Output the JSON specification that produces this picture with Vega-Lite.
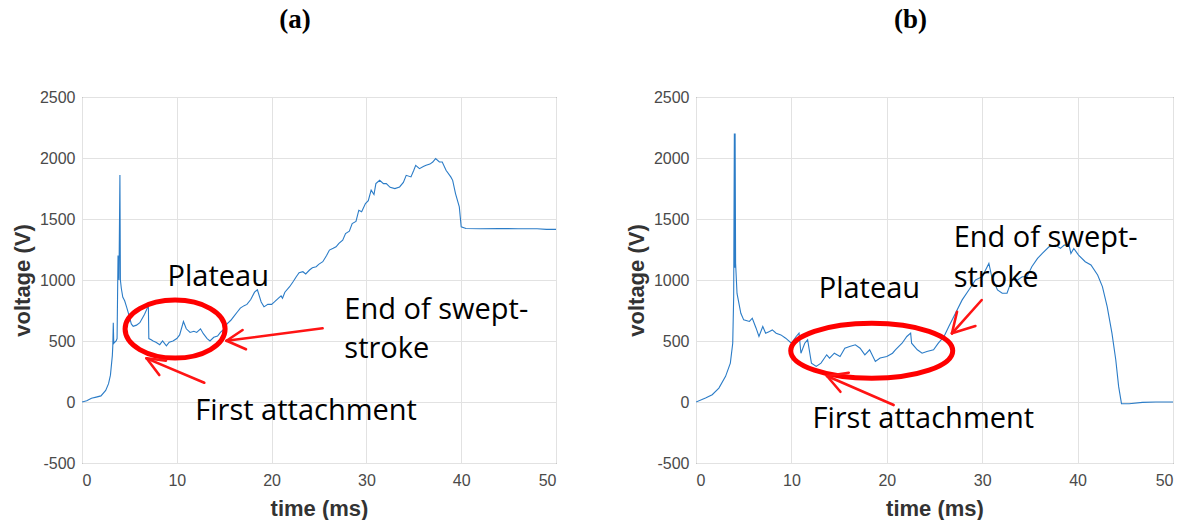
{
  "$schema": "https://vega.github.io/schema/vega-lite/v6.json",
  "background": "white",
  "padding": {"left": 10, "top": 5, "right": 5, "bottom": 0},
  "spacing": 67,
  "config": {
    "view": {"stroke": "#4d4d4d", "strokeWidth": 1},
    "axis": {
      "grid": true, "gridColor": "#e2e2e2", "domain": false, "ticks": false,
      "labelFont": "Liberation Sans", "labelFontSize": 16, "labelColor": "#4a4a4a",
      "titleFont": "Liberation Sans", "titleFontSize": 22, "titleFontWeight": "bold", "titleColor": "#333333"
    },
    "axisX": {"labelPadding": 9, "titlePadding": 10},
    "axisY": {"labelPadding": 7, "titlePadding": 5},
    "title": {"font": "Liberation Serif", "fontSize": 27, "fontWeight": "bold", "color": "#000000"}
  },
  "datasets": {
    "a": [
      {"t":0,"v":0},{"t":0.5,"v":10},{"t":1,"v":30},{"t":1.5,"v":40},{"t":2,"v":50},{"t":2.5,"v":95},{"t":2.8,"v":150},{"t":3.0,"v":220},{"t":3.2,"v":380},{"t":3.25,"v":460},{"t":3.3,"v":650},{"t":3.35,"v":480},{"t":3.45,"v":490},{"t":3.6,"v":500},{"t":3.7,"v":520},{"t":3.8,"v":1200},{"t":3.9,"v":1000},{"t":4.0,"v":1860},{"t":4.05,"v":1000},{"t":4.15,"v":930},{"t":4.3,"v":860},{"t":4.5,"v":830},{"t":4.7,"v":780},{"t":5.0,"v":700},{"t":5.2,"v":640},{"t":5.4,"v":620},{"t":5.75,"v":630},{"t":6.1,"v":650},{"t":6.6,"v":720},{"t":7.0,"v":790},{"t":7.05,"v":520},{"t":7.3,"v":510},{"t":7.5,"v":500},{"t":7.8,"v":490},{"t":8.2,"v":470},{"t":8.5,"v":500},{"t":8.9,"v":460},{"t":9.2,"v":490},{"t":9.6,"v":500},{"t":10.0,"v":520},{"t":10.3,"v":550},{"t":10.7,"v":660},{"t":11.0,"v":600},{"t":11.4,"v":570},{"t":11.8,"v":580},{"t":12.1,"v":570},{"t":12.5,"v":600},{"t":12.8,"v":560},{"t":13.2,"v":520},{"t":13.5,"v":500},{"t":13.9,"v":530},{"t":14.3,"v":540},{"t":14.6,"v":570},{"t":15.0,"v":600},{"t":15.3,"v":640},{"t":15.7,"v":670},{"t":16.0,"v":700},{"t":16.4,"v":740},{"t":16.7,"v":770},{"t":17.1,"v":790},{"t":17.4,"v":800},{"t":17.8,"v":840},{"t":18.2,"v":900},{"t":18.5,"v":920},{"t":18.9,"v":820},{"t":19.2,"v":780},{"t":19.6,"v":800},{"t":20.0,"v":800},{"t":20.3,"v":820},{"t":20.7,"v":850},{"t":21.0,"v":870},{"t":21.15,"v":850},{"t":21.4,"v":900},{"t":21.9,"v":945},{"t":22.3,"v":990},{"t":22.6,"v":1027},{"t":22.9,"v":1060},{"t":23.3,"v":1068},{"t":23.6,"v":1050},{"t":24.0,"v":1082},{"t":24.3,"v":1100},{"t":24.7,"v":1109},{"t":25.0,"v":1130},{"t":25.4,"v":1150},{"t":25.8,"v":1200},{"t":26.1,"v":1245},{"t":26.5,"v":1260},{"t":26.8,"v":1272},{"t":27.1,"v":1300},{"t":27.5,"v":1327},{"t":27.8,"v":1381},{"t":28.2,"v":1400},{"t":28.5,"v":1463},{"t":28.9,"v":1480},{"t":29.2,"v":1572},{"t":29.5,"v":1560},{"t":29.9,"v":1627},{"t":30.2,"v":1650},{"t":30.5,"v":1736},{"t":30.8,"v":1700},{"t":31.0,"v":1790},{"t":31.4,"v":1817},{"t":31.8,"v":1790},{"t":32.1,"v":1790},{"t":32.5,"v":1760},{"t":33.0,"v":1749},{"t":33.5,"v":1763},{"t":33.9,"v":1800},{"t":34.2,"v":1858},{"t":34.7,"v":1845},{"t":35.0,"v":1900},{"t":35.2,"v":1940},{"t":35.6,"v":1913},{"t":36.0,"v":1930},{"t":36.3,"v":1940},{"t":36.7,"v":1950},{"t":37.0,"v":1967},{"t":37.3,"v":1995},{"t":37.7,"v":1967},{"t":38.0,"v":1967},{"t":38.4,"v":1899},{"t":38.9,"v":1845},{"t":39.1,"v":1817},{"t":39.4,"v":1708},{"t":39.8,"v":1599},{"t":40.0,"v":1436},{"t":40.5,"v":1422},{"t":42,"v":1420},{"t":44,"v":1422},{"t":46,"v":1420},{"t":48,"v":1420},{"t":49,"v":1415},{"t":50,"v":1415}
    ],
    "b": [
      {"t":0,"v":0},{"t":1,"v":33},{"t":1.7,"v":60},{"t":2.4,"v":114},{"t":3.1,"v":210},{"t":3.6,"v":319},{"t":3.85,"v":482},{"t":3.95,"v":864},{"t":4.02,"v":2200},{"t":4.06,"v":1100},{"t":4.1,"v":2200},{"t":4.15,"v":1140},{"t":4.3,"v":890},{"t":4.7,"v":727},{"t":5.0,"v":673},{"t":5.6,"v":660},{"t":5.9,"v":687},{"t":6.3,"v":605},{"t":6.6,"v":537},{"t":7.0,"v":619},{"t":7.3,"v":564},{"t":7.7,"v":578},{"t":8.0,"v":591},{"t":8.4,"v":564},{"t":8.9,"v":550},{"t":9.4,"v":523},{"t":10.0,"v":482},{"t":10.5,"v":537},{"t":10.8,"v":564},{"t":11.0,"v":400},{"t":11.4,"v":482},{"t":11.7,"v":510},{"t":12.1,"v":319},{"t":12.6,"v":292},{"t":13.1,"v":319},{"t":13.7,"v":387},{"t":14.0,"v":360},{"t":14.5,"v":400},{"t":15.1,"v":373},{"t":15.6,"v":441},{"t":16.1,"v":455},{"t":16.7,"v":469},{"t":17.2,"v":441},{"t":17.7,"v":387},{"t":18.2,"v":428},{"t":18.8,"v":332},{"t":19.3,"v":360},{"t":20.0,"v":373},{"t":20.6,"v":400},{"t":20.9,"v":428},{"t":21.6,"v":482},{"t":22.1,"v":537},{"t":22.5,"v":564},{"t":22.6,"v":482},{"t":23.2,"v":428},{"t":23.7,"v":400},{"t":24.2,"v":414},{"t":24.9,"v":428},{"t":25.4,"v":482},{"t":26.0,"v":537},{"t":26.5,"v":619},{"t":27.2,"v":727},{"t":27.9,"v":837},{"t":28.6,"v":918},{"t":29.3,"v":1000},{"t":30.0,"v":1027},{"t":30.7,"v":1136},{"t":31.0,"v":1027},{"t":31.6,"v":918},{"t":32.1,"v":891},{"t":32.6,"v":891},{"t":33.1,"v":1000},{"t":33.7,"v":1000},{"t":34.2,"v":1027},{"t":34.7,"v":1027},{"t":35.2,"v":1109},{"t":35.8,"v":1177},{"t":36.3,"v":1218},{"t":37.0,"v":1272},{"t":37.7,"v":1286},{"t":38.2,"v":1259},{"t":38.6,"v":1286},{"t":39.1,"v":1286},{"t":39.3,"v":1218},{"t":39.6,"v":1259},{"t":40.1,"v":1204},{"t":40.8,"v":1150},{"t":41.4,"v":1123},{"t":42.1,"v":1041},{"t":42.6,"v":946},{"t":43.1,"v":782},{"t":43.6,"v":564},{"t":44.0,"v":346},{"t":44.3,"v":128},{"t":44.6,"v":-14},{"t":45.4,"v":-14},{"t":46.8,"v":-3},{"t":48.2,"v":0},{"t":50,"v":0}
    ]
  },
  "hconcat": [
    {
      "width": 474, "height": 366,
      "title": {"text": "(a)", "dx": -24, "offset": 55},
      "layer": [
        {
          "data": {"name": "a"},
          "mark": {"type": "line", "color": "#2b7cc7", "strokeWidth": 1.1, "clip": true},
          "encoding": {
            "x": {"field": "t", "type": "quantitative", "scale": {"domain": [0, 50], "nice": false}, "axis": {"values": [0,10,20,30,40,50], "title": "time (ms)"}},
            "y": {"field": "v", "type": "quantitative", "scale": {"domain": [-500, 2500], "nice": false}, "axis": {"values": [-500,0,500,1000,1500,2000,2500], "title": "voltage (V)", "labelExpr": "'' + datum.value"}}
          }
        },
        {
          "data": {"values": [{"t": 9.82, "v": 598}]},
          "mark": {"type": "point", "shape": "M-1,0A1,0.58 0 1,1 1,0A1,0.58 0 1,1 -1,0Z", "size": 10000, "filled": false, "stroke": "#ff0000", "strokeWidth": 5, "opacity": 1},
          "encoding": {"x": {"field": "t", "type": "quantitative"}, "y": {"field": "v", "type": "quantitative"}}
        },
        {
          "data": {"values": [
            {"t": 25.38, "v": 604, "t2": 15.25, "v2": 502},
            {"t": 15.25, "v": 502, "t2": 16.94, "v2": 590},
            {"t": 15.25, "v": 502, "t2": 17.30, "v2": 432},
            {"t": 12.90, "v": 158, "t2": 6.81, "v2": 358},
            {"t": 6.81, "v": 358, "t2": 8.15, "v2": 221},
            {"t": 6.81, "v": 358, "t2": 8.86, "v2": 339}
          ]},
          "mark": {"type": "rule", "color": "#ff1414", "strokeWidth": 2.6, "strokeCap": "round"},
          "encoding": {"x": {"field": "t", "type": "quantitative"}, "y": {"field": "v", "type": "quantitative"}, "x2": {"field": "t2"}, "y2": {"field": "v2"}}
        },
        {
          "data": {"values": [
            {"t": 9.03, "v": 953, "label": "Plateau"},
            {"t": 27.67, "v": 680, "label": "End of swept-"},
            {"t": 27.67, "v": 363, "label": "stroke"},
            {"t": 11.95, "v": -148, "label": "First attachment"}
          ]},
          "mark": {"type": "text", "align": "left", "baseline": "alphabetic", "font": "Open Sans", "fontSize": 29, "color": "#000000"},
          "encoding": {"x": {"field": "t", "type": "quantitative"}, "y": {"field": "v", "type": "quantitative"}, "text": {"field": "label"}}
        }
      ]
    },
    {
      "width": 477, "height": 366,
      "title": {"text": "(b)", "dx": -24, "offset": 55},
      "layer": [
        {
          "data": {"name": "b"},
          "mark": {"type": "line", "color": "#2b7cc7", "strokeWidth": 1.1, "clip": true},
          "encoding": {
            "x": {"field": "t", "type": "quantitative", "scale": {"domain": [0, 50], "nice": false}, "axis": {"values": [0,10,20,30,40,50], "title": "time (ms)"}},
            "y": {"field": "v", "type": "quantitative", "scale": {"domain": [-500, 2500], "nice": false}, "axis": {"values": [-500,0,500,1000,1500,2000,2500], "title": "voltage (V)", "labelExpr": "'' + datum.value"}}
          }
        },
        {
          "data": {"values": [{"t": 18.42, "v": 420}]},
          "mark": {"type": "point", "shape": "M-1,0A1,0.34 0 1,1 1,0A1,0.34 0 1,1 -1,0Z", "size": 26244, "filled": false, "stroke": "#ff0000", "strokeWidth": 5, "opacity": 1},
          "encoding": {"x": {"field": "t", "type": "quantitative"}, "y": {"field": "v", "type": "quantitative"}}
        },
        {
          "data": {"values": [
            {"t": 29.95, "v": 836, "t2": 26.83, "v2": 563},
            {"t": 26.83, "v": 563, "t2": 27.36, "v2": 740},
            {"t": 26.83, "v": 563, "t2": 29.29, "v2": 623},
            {"t": 20.72, "v": -25, "t2": 13.73, "v2": 213},
            {"t": 13.73, "v": 213, "t2": 16.01, "v2": 240},
            {"t": 13.73, "v": 213, "t2": 15.14, "v2": 84}
          ]},
          "mark": {"type": "rule", "color": "#ff1414", "strokeWidth": 2.6, "strokeCap": "round"},
          "encoding": {"x": {"field": "t", "type": "quantitative"}, "y": {"field": "v", "type": "quantitative"}, "x2": {"field": "t2"}, "y2": {"field": "v2"}}
        },
        {
          "data": {"values": [
            {"t": 12.86, "v": 850, "label": "Plateau"},
            {"t": 27.01, "v": 1273, "label": "End of swept-"},
            {"t": 27.01, "v": 945, "label": "stroke"},
            {"t": 12.21, "v": -216, "label": "First attachment"}
          ]},
          "mark": {"type": "text", "align": "left", "baseline": "alphabetic", "font": "Open Sans", "fontSize": 29, "color": "#000000"},
          "encoding": {"x": {"field": "t", "type": "quantitative"}, "y": {"field": "v", "type": "quantitative"}, "text": {"field": "label"}}
        }
      ]
    }
  ]
}
